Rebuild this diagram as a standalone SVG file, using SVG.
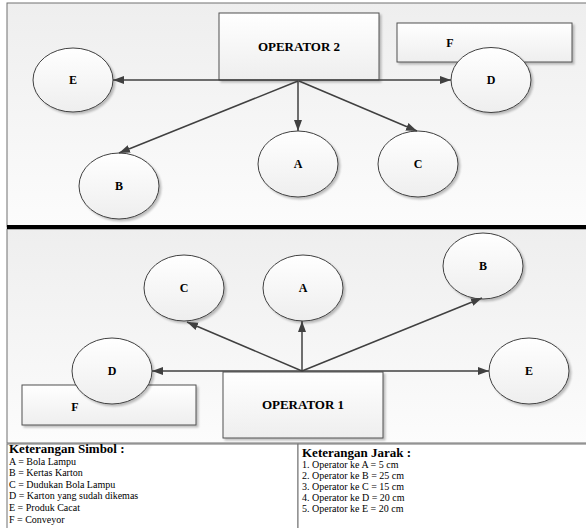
<svg xmlns="http://www.w3.org/2000/svg" width="586" height="528" viewBox="0 0 586 528">
<defs>
<linearGradient id="panel" x1="0" y1="0" x2="0" y2="1">
<stop offset="0" stop-color="#eeeeee"/>
<stop offset="1" stop-color="#fcfcfc"/>
</linearGradient>
<linearGradient id="node" x1="0" y1="0" x2="0" y2="1">
<stop offset="0" stop-color="#ffffff"/>
<stop offset="1" stop-color="#eeeeee"/>
</linearGradient>
<filter id="sh" x="-10%" y="-10%" width="130%" height="130%">
<feGaussianBlur in="SourceAlpha" stdDeviation="1.2"/>
<feOffset dx="1.5" dy="1.5" result="b"/>
<feComponentTransfer><feFuncA type="linear" slope="0.25"/></feComponentTransfer>
<feMerge><feMergeNode/><feMergeNode in="SourceGraphic"/></feMerge>
</filter>
<marker id="arr" markerUnits="userSpaceOnUse" markerWidth="12" markerHeight="10" refX="11" refY="4" orient="auto">
<path d="M0,0 L11,4 L0,8 Z" fill="#404040"/>
</marker>
<style>
.panel{fill:url(#panel);stroke:#707070;stroke-width:1}
.ell{fill:url(#node);stroke:#404040;stroke-width:1;filter:url(#sh)}
.box{fill:url(#node);stroke:#505050;stroke-width:1;filter:url(#sh)}
.lbl{font-family:"Liberation Serif",serif;font-weight:bold;font-size:12px;fill:#000;text-anchor:middle}
.op{font-family:"Liberation Serif",serif;font-weight:bold;font-size:13px;fill:#000;text-anchor:middle}
.conn line{stroke:#404040;stroke-width:1.5;marker-end:url(#arr)}
.leg{fill:#fff;stroke:#707070;stroke-width:1}
.lh{font-family:"Liberation Serif",serif;font-weight:bold;font-size:13px;fill:#000}
.lt{font-family:"Liberation Serif",serif;font-size:10px;fill:#000}
</style>
</defs>
<rect width="586" height="528" fill="#ffffff"/>
<rect class="panel" x="7" y="3" width="600" height="224"/>
<rect class="panel" x="7" y="229" width="600" height="214"/>
<line x1="7" y1="227" x2="586" y2="227" stroke="#000" stroke-width="4"/>

<g id="op2"><rect class="box" x="219" y="13" width="160" height="67"/><text class="op" x="299" y="51">OPERATOR 2</text></g>
<g id="f-top"><rect class="box" x="397" y="23" width="175" height="39"/><text class="lbl" x="450" y="47">F</text></g>
<g id="e-top"><ellipse class="ell" cx="73" cy="80" rx="40" ry="32"/><text class="lbl" x="73" y="84">E</text></g>
<g id="d-top"><ellipse class="ell" cx="491" cy="80" rx="40" ry="32.5"/><text class="lbl" x="491" y="84">D</text></g>
<g id="b-top"><ellipse class="ell" cx="119" cy="186" rx="40" ry="33"/><text class="lbl" x="119" y="190">B</text></g>
<g id="a-top"><ellipse class="ell" cx="298" cy="164" rx="40" ry="33"/><text class="lbl" x="298" y="168">A</text></g>
<g id="c-top"><ellipse class="ell" cx="418" cy="164" rx="40" ry="33"/><text class="lbl" x="418" y="168">C</text></g>

<g id="op1"><rect class="box" x="223" y="372" width="160" height="66"/><text class="op" x="303" y="409">OPERATOR 1</text></g>
<g id="f-bot"><rect class="box" x="22" y="385" width="174" height="40"/><text class="lbl" x="75" y="411">F</text></g>
<g id="d-bot"><ellipse class="ell" cx="112" cy="371" rx="40" ry="33"/><text class="lbl" x="112" y="375">D</text></g>
<g id="c-bot"><ellipse class="ell" cx="184" cy="288" rx="40" ry="33"/><text class="lbl" x="184" y="292">C</text></g>
<g id="a-bot"><ellipse class="ell" cx="303" cy="288" rx="40" ry="33"/><text class="lbl" x="303" y="292">A</text></g>
<g id="b-bot"><ellipse class="ell" cx="483" cy="266" rx="40" ry="33"/><text class="lbl" x="483" y="270">B</text></g>
<g id="e-bot"><ellipse class="ell" cx="529" cy="371" rx="40" ry="33"/><text class="lbl" x="529" y="375">E</text></g>

<g class="conn" id="connectors">
<line x1="299" y1="80" x2="113" y2="80"/>
<line x1="299" y1="80" x2="451" y2="80"/>
<line x1="298" y1="81" x2="298" y2="131"/>
<line x1="298" y1="81" x2="119" y2="153"/>
<line x1="299" y1="81" x2="417" y2="131"/>
<line x1="302" y1="371" x2="152" y2="371"/>
<line x1="302" y1="371" x2="489" y2="371"/>
<line x1="302" y1="371" x2="187" y2="322"/>
<line x1="302" y1="371" x2="302" y2="321"/>
<line x1="302" y1="371" x2="482" y2="298"/>
</g>

<g id="legend-simbol">
<rect class="leg" x="7" y="444" width="291" height="100"/>
<text class="lh" x="9" y="453">Keterangan Simbol :</text>
<text class="lt" x="9" y="465">A = Bola Lampu</text>
<text class="lt" x="9" y="476">B = Kertas Karton</text>
<text class="lt" x="9" y="488">C = Dudukan Bola Lampu</text>
<text class="lt" x="9" y="499">D = Karton yang sudah dikemas</text>
<text class="lt" x="9" y="511">E = Produk Cacat</text>
<text class="lt" x="9" y="523">F = Conveyor</text>
</g>
<g id="legend-jarak">
<rect class="leg" x="298" y="444" width="300" height="100"/>
<text class="lh" x="302" y="457">Keterangan Jarak :</text>
<text class="lt" x="302" y="468">1. Operator ke A = 5 cm</text>
<text class="lt" x="302" y="479">2. Operator ke B = 25 cm</text>
<text class="lt" x="302" y="490">3. Operator ke C = 15 cm</text>
<text class="lt" x="302" y="501">4. Operator ke D = 20 cm</text>
<text class="lt" x="302" y="512">5. Operator ke E = 20 cm</text>
</g>
</svg>
